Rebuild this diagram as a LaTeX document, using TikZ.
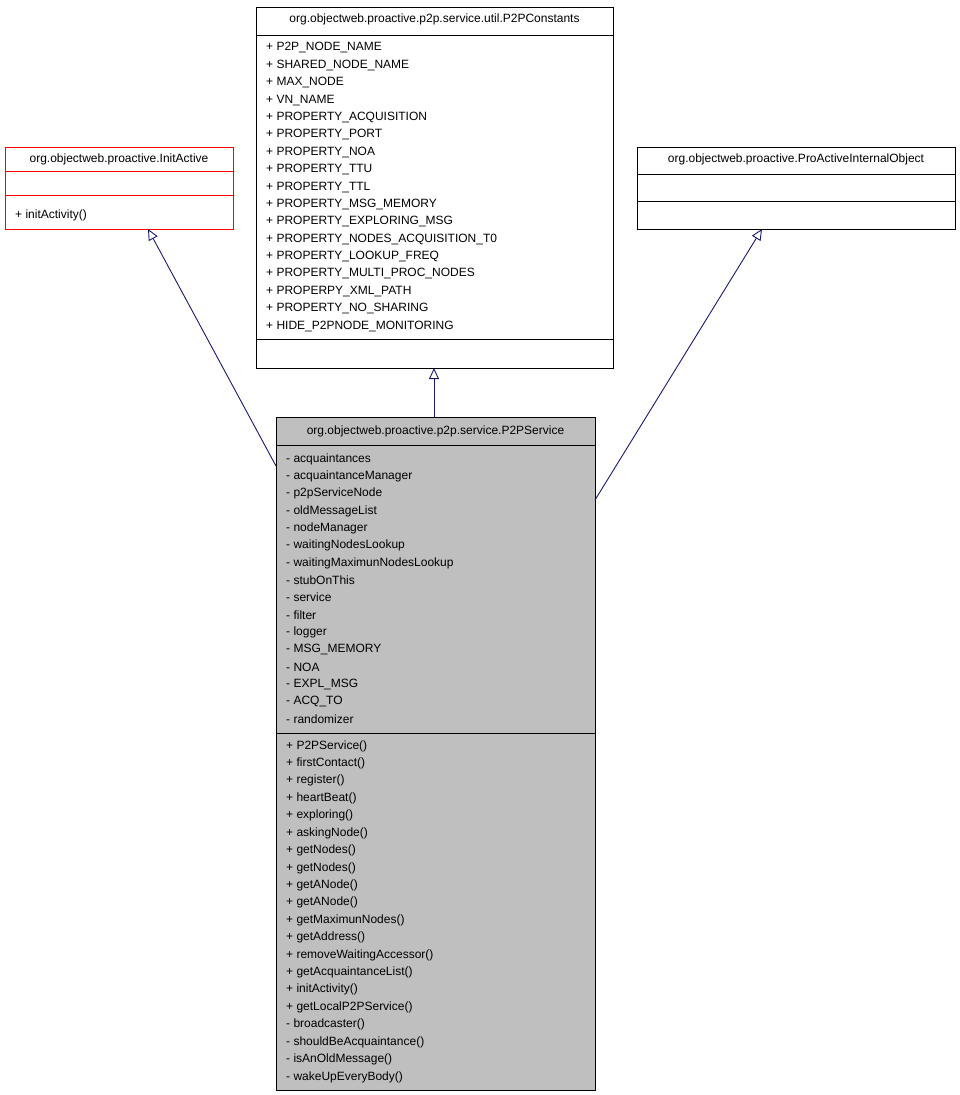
\documentclass[tikz,border=0pt]{standalone}
\usepackage{fontspec}
\setmainfont{Liberation Sans}
\usetikzlibrary{arrows.meta}
\definecolor{edge}{HTML}{191970}
\definecolor{grey}{HTML}{BFBFBF}
\tikzset{
 cls/.style={draw=black,line width=0.8pt,anchor=north west,inner sep=0pt},
 txt/.style={anchor=west,inner sep=0pt,font=\fontsize{12}{14}\selectfont},
 ttl/.style={anchor=center,inner sep=0pt,font=\fontsize{12}{14}\selectfont},
 inh/.style={draw=edge,line width=0.9pt,-{Triangle[open,fill=white,length=11pt,width=10pt]}}
}
\begin{document}
\begin{tikzpicture}[x=1pt,y=-1pt]
\useasboundingbox (0,0) rectangle (959,1095);
% InitActive
\node[cls,draw=red,minimum width=228pt,minimum height=82pt] (ia) at (5,147) {};
\draw[red,line width=0.8pt] (5,171) -- (233,171) (5,195) -- (233,195);
\node[ttl] (iat) at (119,159) {org.objectweb.proactive.InitActive};
\node[txt] (iam) at (15,215) {+ initActivity()};
% Constants
\node[cls,minimum width=357pt,minimum height=361pt] (pc) at (256,7) {};
\draw[line width=0.8pt] (256,35) -- (613,35) (256,339) -- (613,339);
\node[ttl] (pct) at (434.5,19) {org.objectweb.proactive.p2p.service.util.P2PConstants};
\foreach \t [count=\i from 0] in {P2P\_NODE\_NAME,SHARED\_NODE\_NAME,MAX\_NODE,VN\_NAME,PROPERTY\_ACQUISITION,PROPERTY\_PORT,PROPERTY\_NOA,PROPERTY\_TTU,PROPERTY\_TTL,PROPERTY\_MSG\_MEMORY,PROPERTY\_EXPLORING\_MSG,PROPERTY\_NODES\_ACQUISITION\_T0,PROPERTY\_LOOKUP\_FREQ,PROPERTY\_MULTI\_PROC\_NODES,PROPERPY\_XML\_PATH,PROPERTY\_NO\_SHARING,HIDE\_P2PNODE\_MONITORING}
  \node[txt] (pca\i) at (266,48+17.375*\i) {+ \t};
% ProActiveInternalObject
\node[cls,minimum width=318pt,minimum height=82pt] (pi) at (637,147) {};
\draw[line width=0.8pt] (637,174) -- (955,174) (637,201) -- (955,201);
\node[ttl] (pit) at (796,159) {org.objectweb.proactive.ProActiveInternalObject};
% P2PService
\node[cls,fill=grey,minimum width=319pt,minimum height=673pt] (ps) at (276,417) {};
\draw[line width=0.8pt] (276,445) -- (595,445) (276,733) -- (595,733);
\node[ttl] (pst) at (435.5,431) {org.objectweb.proactive.p2p.service.P2PService};
\foreach \t [count=\i from 0] in {acquaintances,acquaintanceManager,p2pServiceNode,oldMessageList,nodeManager,waitingNodesLookup,waitingMaximunNodesLookup,stubOnThis,service,filter,logger,MSG\_MEMORY,NOA,EXPL\_MSG,ACQ\_TO,randomizer}
  \node[txt] (psa\i) at (286,459+17.33*\i) {- \t};
\foreach \t [count=\i from 0] in {+ P2PService(),+ firstContact(),+ register(),+ heartBeat(),+ exploring(),+ askingNode(),+ getNodes(),+ getNodes(),+ getANode(),+ getANode(),+ getMaximunNodes(),+ getAddress(),+ removeWaitingAccessor(),+ getAcquaintanceList(),+ initActivity(),+ getLocalP2PService(),- broadcaster(),- shouldBeAcquaintance(),- isAnOldMessage(),- wakeUpEveryBody()}
  \node[txt] (psm\i) at (286,746+17.42*\i) {\t};
% edges
\coordinate (e1) at (434,417); \coordinate (t1) at (434,368);
\coordinate (e2) at (276,466); \coordinate (t2) at (148,229);
\coordinate (e3) at (595,500); \coordinate (t3) at (762,229);
\draw[inh] (e1) -- (t1);
\draw[inh] (e2) -- (t2);
\draw[inh] (e3) -- (t3);
\end{tikzpicture}
\end{document}
